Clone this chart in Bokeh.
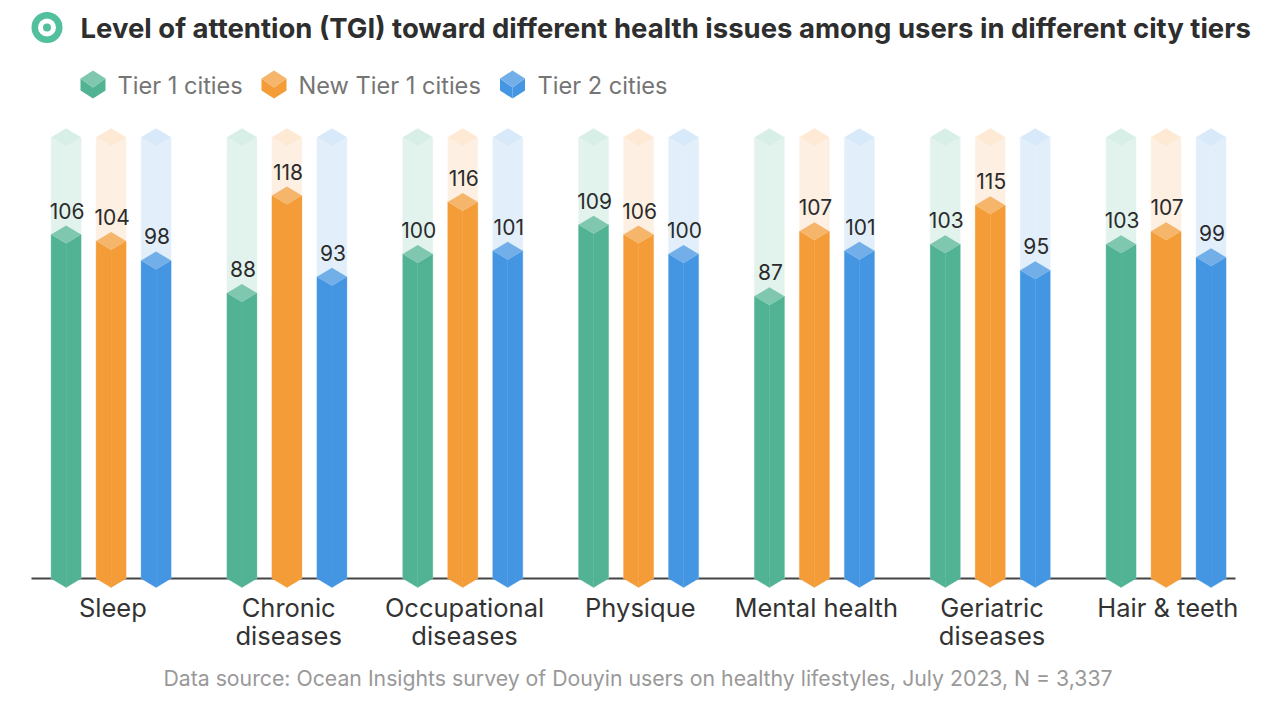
from bokeh.plotting import figure
from bokeh.embed import file_html
from bokeh.resources import INLINE
from bokeh.models import Range1d, FixedTicker, Label
from bokeh.core.properties import value

title_text = "Level of attention (TGI) toward different health issues among users in different city tiers"
source_text = "Data source: Ocean Insights survey of Douyin users on healthy lifestyles, July 2023, N = 3,337"
categories = ["Sleep", "Chronic\ndiseases", "Occupational\ndiseases", "Physique", "Mental health", "Geriatric\ndiseases", "Hair & teeth"]
series_names = ["Tier 1 cities", "New Tier 1 cities", "Tier 2 cities"]
tier1 = [106, 88, 100, 109, 87, 103, 103]
new_tier1 = [104, 118, 116, 106, 107, 115, 107]
tier2 = [98, 93, 101, 100, 101, 95, 99]
track_top = 136

face = ["#52B394", "#F39C38", "#4496E3"]
top = ["#80C7AF", "#F5B56B", "#72AFE9"]
bg_face = ["#E2F3EE", "#FDF0E2", "#E2EFFB"]
bg_top = ["#D8EFE7", "#FDE9D4", "#D8E9F9"]

W, H = 1264, 698
K = 3.245       # px per value unit
BASE = 578      # image y of value 0
C0, STEP = 110.6, 175.83  # image x of first group centre, px per group

x0 = (0 - C0) / STEP
x1 = (W - C0) / STEP
y0 = -(H - BASE) / K
y1 = BASE / K

p = figure(width=W, height=H, output_backend="svg", toolbar_location=None,
           x_range=Range1d(x0, x1), y_range=Range1d(y0, y1),
           y_axis_location=None, min_border=0, outline_line_color=None,
           background_fill_color=None, border_fill_color="white")
p.grid.visible = False
p.extra_x_ranges["px"] = Range1d(0, W)
p.extra_y_ranges["px"] = Range1d(H, 0)

ax = p.xaxis[0]
ax.fixed_location = 0
ax.level = "underlay"
ax.bounds = ((31 - C0) / STEP, (1235 - C0) / STEP)
tick_pos = [i + 0.01 for i in range(len(categories))]
ax.ticker = FixedTicker(ticks=tick_pos)
ax.major_label_overrides = {t: c for t, c in zip(tick_pos, categories)}
ax.major_tick_line_color = None
ax.minor_tick_line_color = None
ax.axis_line_color = "#444444"
ax.axis_line_width = 2
ax.major_label_text_font = "Inter"
ax.major_label_text_font_size = "25.5px"
ax.major_label_text_color = "#333333"
ax.major_label_text_line_height = 0.91
ax.major_label_standoff = 7
ax.major_label_orientation = "horizontal"

hw = 15 / STEP
off = 45 / STEP
d = 9 / K


def cube(cx, val, face_col, top_col, tip_bottom):
    bottom = -d if tip_bottom else 0
    left_x = [cx - hw, cx, cx, cx - hw]
    left_y = [val, val - d, bottom, 0]
    right_x = [cx, cx + hw, cx + hw, cx]
    right_y = [val - d, val, 0, bottom]
    top_x = [cx - hw, cx, cx + hw, cx]
    top_y = [val, val + d, val, val - d]
    p.patches([left_x, right_x], [left_y, right_y], fill_color=face_col, line_color=face_col, line_width=0.3)
    p.patch(top_x, top_y, fill_color=top_col, line_color=None)


all_series = [tier1, new_tier1, tier2]
for j, vals in enumerate(all_series):
    xs = [i + (j - 1) * off for i in range(len(vals))]
    for cx in xs:
        cube(cx, track_top, bg_face[j], bg_top[j], False)
    for cx, v in zip(xs, vals):
        cube(cx, v, face[j], top[j], True)
    p.text(xs, vals, text=[str(v) for v in vals], text_align="center", text_baseline="alphabetic",
           x_offset=1, y_offset=-24, text_font=value("Inter"), text_font_size="21px", text_color="#2B2B2B")

# Title marker and title
px = dict(x_range_name="px", y_range_name="px")
p.scatter([46.5], [27], size=31, fill_color="#52BF9E", line_color=None, **px)
p.scatter([46.5], [27], size=18, fill_color="white", line_color=None, **px)
p.scatter([46.5], [27], size=8, fill_color="#52BF9E", line_color=None, **px)
p.add_layout(Label(x=80, y=27, text=title_text, text_font="Inter", text_font_style="bold",
                   text_font_size="27.5px", text_color="#2E2E2E", text_baseline="middle", text_align="left", **px))

# Legend
leg_cx = [92.5, 273.5, 512.0]
leg_tx = [117, 298, 537]
for j, name in enumerate(series_names):
    c = leg_cx[j]
    p.patch([c - 12.5, c, c, c - 12.5], [78, 87, 98, 90], fill_color=face[j], line_color=None, **px)
    p.patch([c, c + 12.5, c + 12.5, c], [87, 78, 90, 98], fill_color=face[j], line_color=None, **px)
    p.patch([c - 12.5, c, c + 12.5, c], [78, 70, 78, 87], fill_color=top[j], line_color=None, **px)
    p.add_layout(Label(x=leg_tx[j], y=85, text=name, text_font="Inter", text_font_size="23.6px",
                       text_color="#757575", text_baseline="middle", text_align="left", **px))

p.add_layout(Label(x=637.5, y=677, text=source_text, text_font="Inter", text_font_size="21.25px",
                   text_color="#999999", text_baseline="middle", text_align="center", **px))

open("out.html", "w").write(file_html(p, INLINE))
